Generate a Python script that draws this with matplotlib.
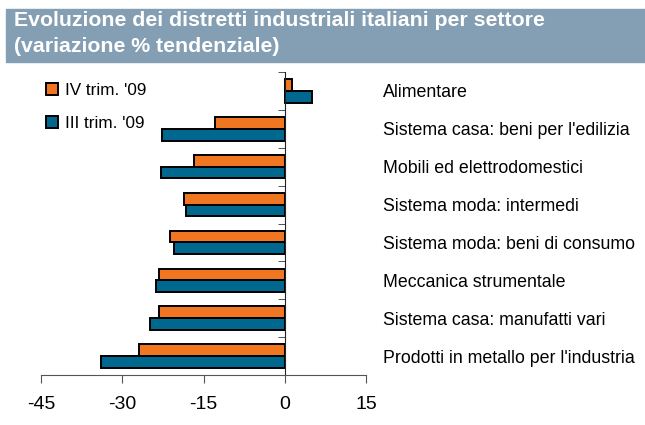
import matplotlib.pyplot as plt
import numpy as np
from matplotlib.patches import Rectangle

plt.rcParams["font.family"] = ["Liberation Sans", "DejaVu Sans"]

sectors = [
    "Alimentare",
    "Sistema casa: beni per l'edilizia",
    "Mobili ed elettrodomestici",
    "Sistema moda: intermedi",
    "Sistema moda: beni di consumo",
    "Meccanica strumentale",
    "Sistema casa: manufatti vari",
    "Prodotti in metallo per l'industria",
]
iv_trim = [1.3, -12.8, -16.8, -18.6, -21.1, -23.3, -23.3, -27.0]
iii_trim = [5.0, -22.6, -22.9, -18.3, -20.4, -23.7, -24.8, -33.9]
series_labels = ["IV trim. '09", "III trim. '09"]
x_ticks = [-45, -30, -15, 0, 15]

orange = "#F07622"
blue = "#00688F"
header = "#849FB4"

fig = plt.figure(figsize=(6.45, 4.25), dpi=100)

# title band
fig.patches.append(Rectangle((6 / 645, 1 - 62 / 425), 1, 53 / 425,
                             transform=fig.transFigure, color=header, zorder=0))
fig.text(14 / 645, 1 - 21 / 425, "Evoluzione dei distretti industriali italiani per settore",
         color="white", fontsize=15.3, fontweight="bold", va="center")
fig.text(14 / 645, 1 - 46 / 425, "(variazione % tendenziale)",
         color="white", fontsize=15.3, fontweight="bold", va="center")

ax = fig.add_axes([41 / 645, 1 - 375 / 425, 325 / 645, 303 / 425])

y = np.arange(len(sectors))
h = 0.31
ax.barh(y - h / 2, iv_trim, height=h, color=orange, edgecolor="black",
        linewidth=1.4, label=series_labels[0])
ax.barh(y + h / 2, iii_trim, height=h, color=blue, edgecolor="black",
        linewidth=1.4, label=series_labels[1])

ax.set_xlim(-45, 15)
ax.set_ylim(len(sectors) - 0.5, -0.5)
ax.set_xticks(x_ticks)
ax.set_xticklabels([str(v) for v in x_ticks], fontsize=14)

for side in ["top", "right"]:
    ax.spines[side].set_visible(False)
ax.spines["left"].set_position(("data", 0))
ax.spines["left"].set_color("#222222")
ax.spines["bottom"].set_color("#555555")
ax.tick_params(axis="x", direction="out", length=6, color="#555555", pad=9)

ax.set_yticks(y)
ax.set_yticklabels(sectors, fontsize=12.8)
ax.set_yticks(np.arange(len(sectors) + 1) - 0.5, minor=True)
ax.tick_params(axis="y", which="major", length=0, labelleft=False,
               labelright=True, pad=12)
ax.tick_params(axis="y", which="minor", direction="out", length=5, color="#333333")

fig.legend(loc="upper left", bbox_to_anchor=(39 / 645, 1 - 76 / 425), frameon=False,
           fontsize=12.3, handlelength=0.7, handleheight=0.7, handletextpad=0.4,
           labelspacing=1.05, borderaxespad=0)

fig.savefig("out.png", dpi=100)
